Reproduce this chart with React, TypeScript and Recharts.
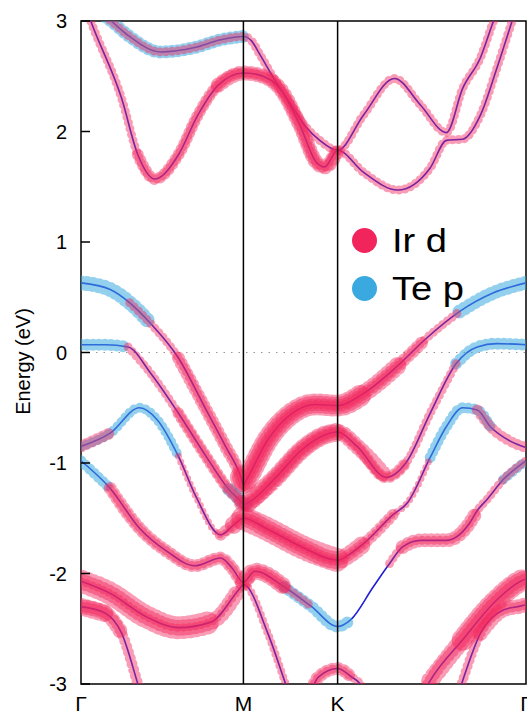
import React from "react";
import {
  ComposedChart,
  Line,
  XAxis,
  YAxis,
  ReferenceLine,
  ReferenceArea,
} from "recharts";

// k-path positions (Γ-M = 1) and labels
const kTicks = [0, 1, 1.58, 2.74];
const kLabels = ["Γ", "M", "K", "Γ"];
const eTicks = [-3, -2, -1, 0, 1, 2, 3];

const IR = "#f2245c";
const TE = "#3aa9e0";
const CORE = "#1f1fd6";
const FONT = "'Liberation Sans', Arial, Helvetica, sans-serif";

type Pt = [number, number];
// [k from, k to, circle size px, orbital] - layers stack, so thick parts get denser
type Fat = [number, number, number, "ir" | "te"];

// bands: [k, energy eV]
const bandC1: Pt[] = [
  [0, 3.2], [0.185, 3.0], [0.29, 2.87], [0.49, 2.72], [0.7, 2.76], [0.86, 2.83], [1.0, 2.86],
  [1.05, 2.82], [1.1, 2.7], [1.2, 2.45], [1.29, 2.25], [1.38, 2.05], [1.47, 1.92], [1.58, 1.83],
  [1.74, 2.15], [1.93, 2.48], [2.09, 2.24], [2.25, 1.99], [2.35, 2.39], [2.46, 2.67], [2.54, 3.0], [2.65, 3.4],
];
const bandC2: Pt[] = [
  [0, 3.25], [0.06, 3.0], [0.25, 2.3], [0.35, 1.79], [0.455, 1.57], [0.6, 1.79], [0.72, 2.15], [0.845, 2.42], [1.0, 2.53],
  [1.1, 2.51], [1.23, 2.38], [1.35, 2.05], [1.45, 1.72], [1.5, 1.68], [1.58, 1.83],
  [1.74, 1.63], [1.95, 1.47], [2.15, 1.67], [2.25, 1.92], [2.35, 1.93], [2.46, 2.15], [2.56, 2.57], [2.65, 2.98], [2.74, 3.4],
];
const bandV1: Pt[] = [
  [0, 0.63], [0.18, 0.57], [0.3, 0.45], [0.43, 0.26], [0.6, -0.05], [0.76, -0.49], [0.89, -0.85], [0.985, -1.13], [1.0, -1.2],
  [1.02, -1.15], [1.15, -0.79], [1.3, -0.55], [1.44, -0.47], [1.58, -0.48],
  [1.74, -0.37], [1.95, -0.12], [2.12, 0.12], [2.33, 0.37], [2.54, 0.54], [2.74, 0.63],
];
const bandV2: Pt[] = [
  [0, 0.07], [0.15, 0.07], [0.29, 0.05], [0.43, -0.19], [0.6, -0.55], [0.77, -0.94], [0.91, -1.24], [0.99, -1.36], [1.0, -1.38],
  [1.03, -1.36], [1.2, -1.13], [1.36, -0.88], [1.48, -0.76], [1.58, -0.72],
  [1.7, -0.85], [1.88, -1.13], [2.0, -1.0], [2.15, -0.55], [2.31, -0.1], [2.44, 0.05], [2.56, 0.08], [2.74, 0.07],
];
const bandV3: Pt[] = [
  [0, -0.85], [0.18, -0.73], [0.36, -0.5], [0.47, -0.61], [0.6, -0.94], [0.71, -1.31], [0.86, -1.65], [0.94, -1.56], [1.0, -1.5],
  [1.15, -1.6], [1.36, -1.76], [1.58, -1.88],
  [1.66, -1.82], [1.74, -1.73], [1.92, -1.47], [2.01, -1.36], [2.15, -0.95], [2.25, -0.67], [2.35, -0.5],
  [2.44, -0.52], [2.52, -0.67], [2.64, -0.8], [2.74, -0.86],
];
const bandV4: Pt[] = [
  [0, -0.98], [0.18, -1.23], [0.36, -1.59], [0.53, -1.8], [0.7, -1.93], [0.86, -1.86], [0.93, -1.95], [1.0, -2.08],
  [1.07, -1.98], [1.25, -2.12], [1.42, -2.3], [1.58, -2.48],
  [1.66, -2.42], [1.8, -2.12], [1.9, -1.91], [1.98, -1.76], [2.09, -1.7], [2.25, -1.7], [2.39, -1.55],
  [2.44, -1.43], [2.5, -1.33], [2.6, -1.15], [2.74, -0.98],
];
const bandL1: Pt[] = [
  [0, -2.07], [0.18, -2.18], [0.4, -2.39], [0.6, -2.49], [0.8, -2.44], [0.97, -2.15], [1.0, -2.1],
  [1.15, -2.54], [1.26, -3.0], [1.32, -3.25],
];
const bandL2: Pt[] = [[0, -2.3], [0.15, -2.36], [0.25, -2.54], [0.35, -3.0], [0.4, -3.25]];
const bandR1: Pt[] = [[2.05, -3.25], [2.15, -2.97], [2.35, -2.6], [2.56, -2.24], [2.72, -2.06], [2.74, -2.05]];
const bandR2: Pt[] = [[2.3, -3.2], [2.35, -2.97], [2.46, -2.54], [2.6, -2.33], [2.72, -2.29], [2.74, -2.28]];
const bandB: Pt[] = [[1.4, -3.15], [1.46, -2.94], [1.58, -2.86], [1.66, -2.93], [1.72, -3.0], [1.8, -3.25]];

// projected weights, drawn as rows of translucent circles
const fatC1: Fat[] = [[0, 1.0, 13, "te"], [0, 2.65, 9, "ir"]];
const fatC2: Fat[] = [[0, 2.74, 9, "ir"], [0.35, 1.58, 12, "ir"], [0.845, 1.58, 15, "ir"]];
const fatV1: Fat[] = [
  [0, 0.43, 15, "te"], [2.33, 2.74, 14, "te"],
  [0.3, 2.33, 9, "ir"], [0.6, 2.12, 13, "ir"], [0.985, 1.95, 18, "ir"], [0.985, 1.74, 22, "ir"],
];
const fatV2: Fat[] = [
  [0, 0.29, 12, "te"], [0.91, 1.03, 13, "te"], [2.31, 2.74, 12, "te"],
  [0.29, 2.31, 9, "ir"], [0.6, 2.0, 12, "ir"], [0.99, 1.88, 16, "ir"], [1.03, 1.58, 19, "ir"],
];
const fatV3: Fat[] = [
  [0, 0.6, 10, "te"], [2.15, 2.52, 11, "te"],
  [0, 0.18, 12, "ir"], [0.6, 2.15, 7, "ir"], [0.86, 1.92, 12, "ir"], [0.94, 1.74, 18, "ir"], [1.0, 1.58, 24, "ir"],
  [2.44, 2.74, 11, "ir"],
];
const fatV4: Fat[] = [
  [0, 0.18, 11, "te"], [1.25, 1.66, 12, "te"], [2.6, 2.74, 10, "te"],
  [0.18, 1.42, 9, "ir"], [0.18, 1.25, 13, "ir"], [1.0, 1.25, 17, "ir"],
  [1.9, 2.74, 9, "ir"], [1.98, 2.44, 14, "ir"],
];
const fatL1: Fat[] = [[0, 1.32, 8, "ir"], [0, 0.97, 16, "ir"], [0, 0.8, 23, "ir"]];
const fatL2: Fat[] = [[0, 0.4, 11, "ir"], [0, 0.25, 15, "ir"], [0, 0.15, 18, "ir"]];
const fatR1: Fat[] = [[2.05, 2.74, 12, "ir"], [2.15, 2.74, 18, "ir"], [2.35, 2.74, 22, "ir"]];
const fatR2: Fat[] = [[2.3, 2.74, 10, "ir"], [2.46, 2.74, 15, "ir"]];
const fatB: Fat[] = [[1.4, 1.8, 9, "ir"], [1.4, 1.66, 13, "ir"]];

const bands = [
  { id: "c1", pts: bandC1, fat: fatC1 },
  { id: "c2", pts: bandC2, fat: fatC2 },
  { id: "v1", pts: bandV1, fat: fatV1 },
  { id: "v2", pts: bandV2, fat: fatV2 },
  { id: "v3", pts: bandV3, fat: fatV3 },
  { id: "v4", pts: bandV4, fat: fatV4 },
  { id: "l1", pts: bandL1, fat: fatL1 },
  { id: "l2", pts: bandL2, fat: fatL2 },
  { id: "r1", pts: bandR1, fat: fatR1 },
  { id: "r2", pts: bandR2, fat: fatR2 },
  { id: "b", pts: bandB, fat: fatB },
];

const legendItems = [
  { label: "Ir d", color: IR },
  { label: "Te p", color: TE },
];

const rows = (pts: Pt[]) => pts.map(([k, e]) => ({ k, e }));

function LegendBox() {
  return (
    <div style={{ position: "absolute", left: 352, top: 216, fontFamily: FONT }}>
      {legendItems.map((it) => (
        <div key={it.label} style={{ display: "flex", alignItems: "center", height: 48 }}>
          <span
            style={{
              width: 25,
              height: 25,
              borderRadius: "50%",
              background: it.color,
              display: "inline-block",
              marginRight: 15,
            }}
          />
          <span
            style={{
              fontSize: 34,
              color: "#000",
              display: "inline-block",
              transform: "scaleX(1.12)",
              transformOrigin: "left center",
            }}
          >
            {it.label}
          </span>
        </div>
      ))}
    </div>
  );
}

export default function App() {
  return (
    <div style={{ position: "absolute", left: 0, top: 0, width: 527, height: 715, background: "#fff", overflow: "hidden" }}>
      <ComposedChart width={527} height={715} margin={{ top: 21, right: 0, bottom: 0, left: 0 }}>
        <XAxis
          type="number"
          dataKey="k"
          domain={[0, 2.74]}
          ticks={kTicks}
          interval={0}
          allowDataOverflow
          tickFormatter={(_v, i) => kLabels[i]}
          tickLine={false}
          axisLine={false}
          height={31}
          tickSize={4}
          tickMargin={8}
          tick={{ fontSize: 21, fill: "#000", fontFamily: FONT }}
        />
        <YAxis
          type="number"
          domain={[-3, 3]}
          ticks={eTicks}
          interval={0}
          allowDataOverflow
          width={81}
          tickSize={-9}
          tickMargin={23}
          axisLine={false}
          tickLine={{ stroke: "#000", strokeWidth: 1.5 }}
          tick={{ fontSize: 20, fill: "#000", fontFamily: FONT }}
          label={{
            content: (p: any) => {
              const vb = p.viewBox || { x: 0, y: 21, height: 663 };
              const cx = 23;
              const cy = vb.y + vb.height / 2 + 9;
              return (
                <text
                  x={cx}
                  y={cy}
                  transform={`rotate(-90 ${cx} ${cy})`}
                  textAnchor="middle"
                  dominantBaseline="central"
                  fontSize={20}
                  fontFamily={FONT}
                  fill="#000"
                >
                  Energy (eV)
                </text>
              );
            },
          }}
        />
        <YAxis
          yAxisId="r"
          orientation="right"
          type="number"
          domain={[-3, 3]}
          ticks={eTicks}
          interval={0}
          width={1}
          tickSize={-9}
          tick={false}
          axisLine={false}
          tickLine={{ stroke: "#000", strokeWidth: 1.5 }}
        />
        <ReferenceLine y={0} stroke="#999" strokeWidth={1} strokeDasharray="1.5 6" />
        {bands.map((b) => (
          <Line
            key={b.id}
            data={rows(b.pts)}
            dataKey="e"
            type="monotone"
            stroke={CORE}
            strokeWidth={1.6}
            dot={false}
            activeDot={false}
            isAnimationActive={false}
          />
        ))}
        {bands.flatMap((b) =>
          b.fat.map(([k0, k1, w, orb], i) => (
            <Line
              key={`${b.id}-${i}`}
              data={rows(b.pts.filter((p) => p[0] >= k0 && p[0] <= k1))}
              dataKey="e"
              type="monotone"
              stroke={orb === "ir" ? IR : TE}
              strokeOpacity={orb === "ir" ? 0.45 : 0.55}
              strokeWidth={w}
              strokeLinecap="round"
              strokeDasharray="0 6"
              dot={false}
              activeDot={false}
              isAnimationActive={false}
            />
          ))
        )}
        <ReferenceLine x={1} stroke="#000" strokeWidth={1.5} />
        <ReferenceLine x={1.58} stroke="#000" strokeWidth={1.5} />
        <ReferenceArea x1={0} x2={2.74} y1={-3} y2={3} fill="none" stroke="#000" strokeWidth={1.5} />
      </ComposedChart>
      <LegendBox />
    </div>
  );
}
